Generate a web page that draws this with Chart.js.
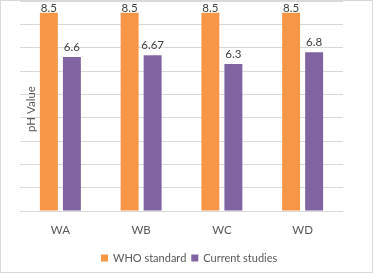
<!DOCTYPE html>
<html>
<head>
<meta charset="utf-8">
<script src="https://cdn.jsdelivr.net/npm/chart.js@4"></script>
<style>
html,body{margin:0;padding:0;background:#fff;}
#wrap{width:374px;height:273px;position:relative;}
</style>
</head>
<body>
<div id="wrap"><canvas id="c" width="374" height="273"></canvas></div>
<script>
const categories = ["WA", "WB", "WC", "WD"];
const whoStandard = [8.5, 8.5, 8.5, 8.5];
const currentStudies = [6.6, 6.67, 6.3, 6.8];
const seriesNames = ["WHO standard", "Current studies"];
const yTickValues = [0, 1, 2, 3, 4, 5, 6, 7, 8, 9];
const yTitle = "pH Value";

const FONT = "Lato, 'Open Sans', sans-serif";

const decor = {
  id: 'decor',
  afterDatasetsDraw(chart) {
    const ctx = chart.ctx;
    ctx.save();
    ctx.font = "11.5px " + FONT;
    ctx.fillStyle = "#404040";
    ctx.textAlign = "center";
    ctx.textBaseline = "middle";
    chart.data.datasets.forEach((ds, i) => {
      const meta = chart.getDatasetMeta(i);
      meta.data.forEach((bar, j) => {
        const v = ds.data[j];
        let y = bar.y - 10;
        if (y < 8) y = 8;
        ctx.fillText(String(v), bar.x, y);
      });
    });
    ctx.save();
    ctx.translate(31, 109);
    ctx.rotate(-Math.PI / 2);
    ctx.fillStyle = "#595959";
    ctx.font = "11.5px " + FONT;
    ctx.fillText(yTitle, 0, 0);
    ctx.restore();
    ctx.font = "11px " + FONT;
    ctx.textAlign = "left";
    const ly = 258;
    const items = chart.data.datasets.map(ds => ({ ds, w: 12 + ctx.measureText(ds.label).width }));
    const gap = 5;
    const total = items.reduce((a, it) => a + it.w, 0) + gap * (items.length - 1);
    let x = Math.round(189 - total / 2);
    items.forEach((it) => {
      ctx.fillStyle = it.ds.backgroundColor;
      ctx.fillRect(x, ly - 3.5, 7, 7);
      ctx.fillStyle = "#595959";
      ctx.fillText(it.ds.label, x + 12, ly);
      x += it.w + gap;
    });
    ctx.strokeStyle = "#d9d9d9";
    ctx.lineWidth = 1;
    ctx.strokeRect(0.5, 0.5, 372, 272);
    ctx.restore();
  }
};

new Chart(document.getElementById('c'), {
  type: 'bar',
  data: {
    labels: categories,
    datasets: [
      { label: seriesNames[0], data: whoStandard, backgroundColor: "#F79646" },
      { label: seriesNames[1], data: currentStudies, backgroundColor: "#8064A2" }
    ]
  },
  options: {
    responsive: false,
    animation: false,
    devicePixelRatio: 1,
    layout: { padding: { top: 1, left: 1, right: 31, bottom: 1 } },
    categoryPercentage: 0.57,
    barPercentage: 0.78,
    plugins: { legend: { display: false }, tooltip: { enabled: false } },
    scales: {
      x: {
        grid: { display: false, drawTicks: false },
        border: { display: false },
        ticks: { color: "#595959", font: { family: FONT, size: 11.5 }, padding: 12 },
        afterFit(s) { s.height = 61; }
      },
      y: {
        min: yTickValues[0], max: yTickValues[yTickValues.length - 1],
        afterBuildTicks(s) { s.ticks = yTickValues.map(v => ({ value: v })); },
        ticks: { display: false },
        grid: { color: "#d9d9d9", lineWidth: 1, drawTicks: false },
        border: { display: false },
        afterFit(s) { s.width = 19; }
      }
    }
  },
  plugins: [decor]
});
</script>
</body>
</html>
